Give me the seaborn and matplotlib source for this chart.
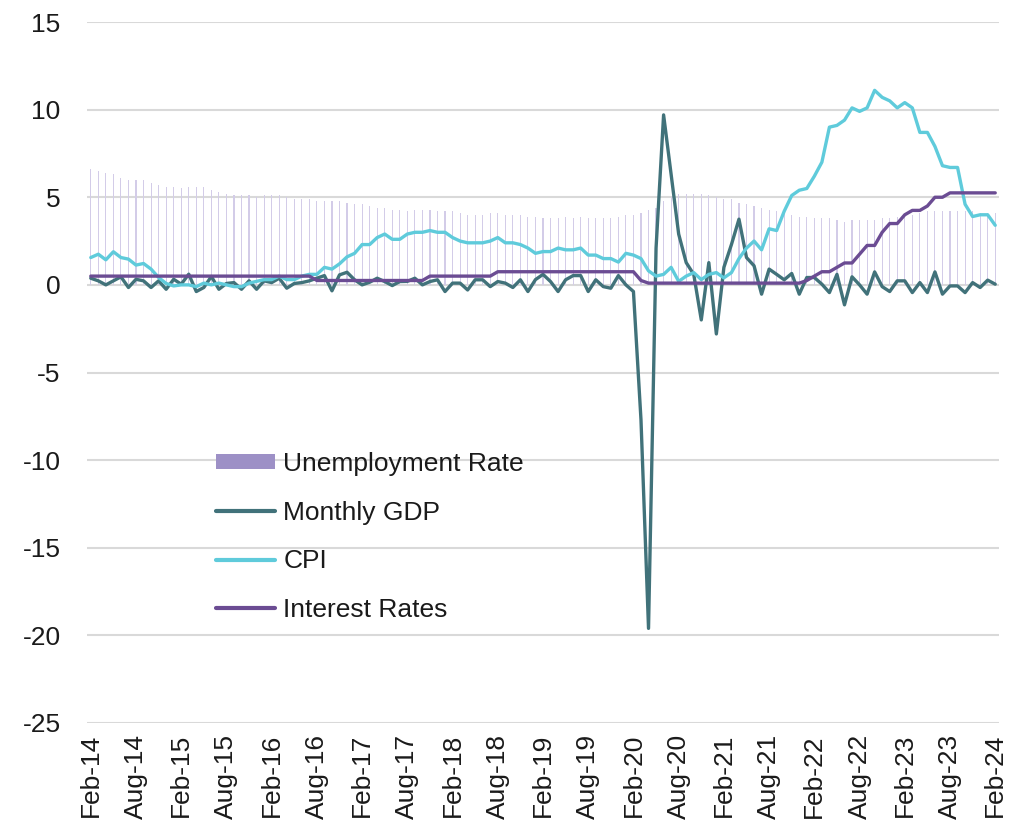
import numpy as np
import pandas as pd
import matplotlib
matplotlib.use("Agg")
import matplotlib.pyplot as plt
from matplotlib.patches import Patch
from matplotlib.lines import Line2D
import seaborn as sns

# Monthly observations, Feb-14 .. Feb-24
months = pd.date_range("2014-02-01", periods=121, freq="MS")
month_labels = [d.strftime("%b-%y") for d in months]

unemployment_rate = [
    6.6, 6.5, 6.4, 6.3, 6.1, 6.0, 6.0, 6.0, 5.8, 5.7, 5.6, 5.6,
    5.5, 5.6, 5.6, 5.6, 5.4, 5.3, 5.2, 5.1, 5.1, 5.1, 5.0, 5.1,
    5.1, 5.1, 5.0, 4.9, 4.9, 4.9, 4.8, 4.8, 4.8, 4.8, 4.7, 4.6,
    4.6, 4.5, 4.4, 4.4, 4.3, 4.3, 4.2, 4.3, 4.3, 4.3, 4.2, 4.2,
    4.2, 4.1, 4.0, 4.0, 4.0, 4.1, 4.1, 4.0, 4.0, 4.0, 3.9, 3.9,
    3.8, 3.8, 3.8, 3.9, 3.8, 3.9, 3.8, 3.8, 3.8, 3.8, 3.9, 4.0,
    4.0, 4.1, 4.3, 4.4, 4.8, 5.0, 5.2, 5.2, 5.2, 5.2, 5.1, 5.0,
    4.9, 4.9, 4.7, 4.6, 4.5, 4.4, 4.3, 4.2, 4.1, 4.0, 3.9, 3.9,
    3.8, 3.8, 3.8, 3.7, 3.6, 3.7, 3.7, 3.7, 3.7, 3.8, 3.8, 3.9,
    4.0, 4.0, 4.1, 4.2, 4.2, 4.2, 4.2, 4.2, 4.2, 4.2, 4.1, 4.1,
    4.1,
]

monthly_gdp = [
    0.38, 0.23, 0.0, 0.23, 0.46, -0.15, 0.32, 0.23, -0.15, 0.23, -0.25, 0.32,
    0.04, 0.61, -0.38, -0.15, 0.48, -0.25, 0.08, 0.13, -0.25, 0.23, -0.25, 0.23,
    0.13, 0.38, -0.19, 0.08, 0.13, 0.23, 0.38, 0.53, -0.34, 0.57, 0.72, 0.29,
    0.0, 0.15, 0.38, 0.19, -0.04, 0.19, 0.2, 0.38, 0.0, 0.19, 0.29, -0.38,
    0.1, 0.1, -0.29, 0.29, 0.29, -0.1, 0.19, 0.1, -0.15, 0.29, -0.38, 0.3,
    0.6, 0.19, -0.38, 0.29, 0.53, 0.53, -0.38, 0.29, -0.1, -0.19, 0.53, 0.0,
    -0.38, -7.7, -19.6, 2.1, 9.7, 6.3, 2.9, 1.27, 0.6, -2.0, 1.27, -2.8,
    1.0, 2.3, 3.75, 1.56, 1.09, -0.53, 0.9, 0.6, 0.29, 0.65, -0.53, 0.42,
    0.42, 0.04, -0.44, 0.6, -1.14, 0.46, 0.0, -0.53, 0.74, -0.1, -0.38, 0.23,
    0.23, -0.44, 0.13, -0.44, 0.74, -0.53, -0.06, -0.06, -0.44, 0.13, -0.15, 0.27,
    0.04,
]

cpi = [
    1.56, 1.75, 1.43, 1.89, 1.56, 1.47, 1.13, 1.22, 0.9, 0.42, 0.08, -0.06,
    0.0, 0.0, -0.1, 0.1, 0.0, 0.1, 0.0, -0.1, -0.1, 0.1, 0.2, 0.3,
    0.3, 0.5, 0.3, 0.3, 0.5, 0.6, 0.6, 1.0, 0.9, 1.2, 1.6, 1.8,
    2.3, 2.3, 2.7, 2.9, 2.6, 2.6, 2.9, 3.0, 3.0, 3.1, 3.0, 3.0,
    2.7, 2.5, 2.4, 2.4, 2.4, 2.5, 2.7, 2.4, 2.4, 2.3, 2.1, 1.8,
    1.9, 1.9, 2.1, 2.0, 2.0, 2.1, 1.7, 1.7, 1.5, 1.5, 1.3, 1.8,
    1.7, 1.5, 0.8, 0.5, 0.6, 1.0, 0.2, 0.5, 0.7, 0.3, 0.6, 0.7,
    0.4, 0.7, 1.5, 2.1, 2.5, 2.0, 3.2, 3.1, 4.2, 5.1, 5.4, 5.5,
    6.2, 7.0, 9.0, 9.1, 9.4, 10.1, 9.9, 10.1, 11.1, 10.7, 10.5, 10.1,
    10.4, 10.1, 8.7, 8.7, 7.9, 6.8, 6.7, 6.7, 4.6, 3.9, 4.0, 4.0,
    3.4,
]

interest_rates = (
    [0.5] * 30
    + [0.25] * 15
    + [0.5] * 9
    + [0.75] * 19
    + [0.25]
    + [0.1] * 21
    + [0.25, 0.5, 0.75, 0.75, 1.0, 1.25, 1.25, 1.75, 2.25, 2.25, 3.0, 3.5, 3.5,
       4.0, 4.25, 4.25, 4.5, 5.0, 5.0]
    + [5.25] * 7
)

tick_step = 6

df = pd.DataFrame({
    "pos": np.arange(len(months)),
    "Unemployment Rate": unemployment_rate,
    "Monthly GDP": monthly_gdp,
    "CPI": cpi,
    "Interest Rates": interest_rates,
})

C_UNEMP_BAR = "#d3cce8"
C_UNEMP = "#9d90c6"
C_GDP = "#41727a"
C_CPI = "#5fcbdb"
C_RATE = "#6b4c93"

sns.set_theme(style="white")
plt.rcParams["font.family"] = ["Liberation Sans", "DejaVu Sans"]
plt.rcParams["axes.unicode_minus"] = False

fig = plt.figure(figsize=(10.22, 8.27), dpi=100)
ax = fig.add_axes([87 / 1022, 1 - 723 / 827, 912 / 1022, 701 / 827])

sns.barplot(data=df, x="pos", y="Unemployment Rate", native_scale=True,
            width=0.15, color=C_UNEMP_BAR, saturation=1, errorbar=None,
            linewidth=0, ax=ax, zorder=2)
sns.lineplot(data=df, x="pos", y="Monthly GDP", color=C_GDP, linewidth=2.4,
             ax=ax, zorder=3)
sns.lineplot(data=df, x="pos", y="CPI", color=C_CPI, linewidth=2.4,
             ax=ax, zorder=4)
sns.lineplot(data=df, x="pos", y="Interest Rates", color=C_RATE, linewidth=2.4,
             ax=ax, zorder=5)

ax.set_xlim(-0.5, len(months) - 0.5)
ax.set_ylim(-25, 15)
ax.set_yticks(np.arange(-25, 16, 5))
ax.set_xticks(np.arange(0, len(months), tick_step))
ax.set_xticklabels(month_labels[::tick_step], rotation=90)
ax.set_xlabel("")
ax.set_ylabel("")
ax.grid(axis="y", color="#d9d9d9", linewidth=1.5, zorder=0)
ax.grid(axis="x", visible=False)
ax.set_axisbelow(True)
for s in ax.spines.values():
    s.set_visible(False)
ax.tick_params(axis="both", length=0, labelsize=19, colors="#1a1a1a")
ax.tick_params(axis="y", pad=19)
ax.tick_params(axis="x", pad=8)

handles = [
    Patch(facecolor=C_UNEMP, edgecolor="none"),
    Line2D([0], [0], color=C_GDP, linewidth=3, solid_capstyle="round"),
    Line2D([0], [0], color=C_CPI, linewidth=3, solid_capstyle="round"),
    Line2D([0], [0], color=C_RATE, linewidth=3, solid_capstyle="round"),
]
labels = ["Unemployment Rate", "Monthly GDP", "CPI", "Interest Rates"]
fig.legend(handles, labels, loc="upper left",
           bbox_to_anchor=(216 / 1022, 1 - 452 / 827),
           bbox_transform=fig.transFigure, frameon=False, fontsize=19,
           handlelength=2.25, handleheight=0.5, handletextpad=0.3,
           labelspacing=0.93, borderpad=0, borderaxespad=0,
           labelcolor="#1a1a1a")

fig.savefig("out.png", dpi=100, facecolor="white")
